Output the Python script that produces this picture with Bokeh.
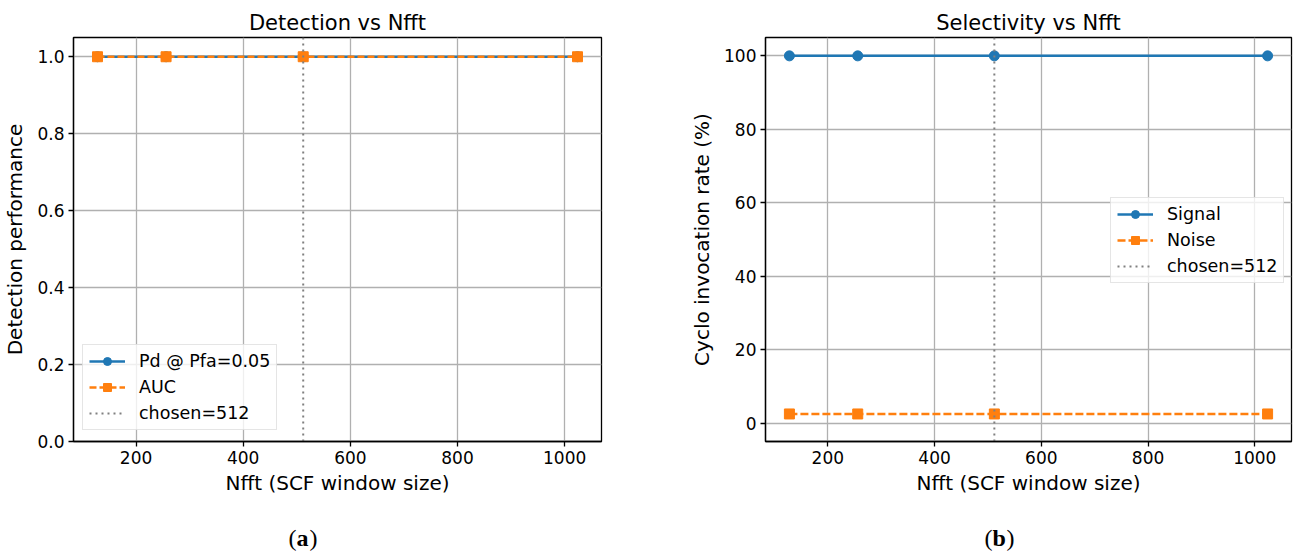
from bokeh.plotting import figure
from bokeh.layouts import row, column
from bokeh.models import Range1d, FixedTicker, Legend, LegendItem, PrintfTickFormatter
from bokeh.core.properties import value
from bokeh.embed import file_html
from bokeh.resources import INLINE

# ---- data ----
nfft = [128, 256, 512, 1024]
pd_vals = [1.0, 1.0, 1.0, 1.0]
auc_vals = [1.0, 1.0, 1.0, 1.0]
signal_rate = [100.0, 100.0, 100.0, 100.0]
noise_rate = [2.5, 2.5, 2.5, 2.5]
chosen = 512
x_ticks = [200, 400, 600, 800, 1000]
y_ticks_a = [0.0, 0.2, 0.4, 0.6, 0.8, 1.0]
y_ticks_b = [0, 20, 40, 60, 80, 100]
ylim_a = (0.0, 1.05)
ylim_b = (-5.0, 105.0)
cap_parts = ["(", "a", ")", "(", "b", ")"]
cap_styles = ["normal", "bold", "normal", "normal", "bold", "normal"]

BLUE = "#1f77b4"
ORANGE = "#ff7f0e"
FONT = "DejaVu Sans"

span = max(nfft) - min(nfft)
xlim = (min(nfft) - 0.05 * span, max(nfft) + 0.05 * span)


def style(p, yticks, yfmt):
    p.outline_line_color = "black"
    p.outline_line_width = 1.3
    p.title.text_font = FONT
    p.title.text_font_size = "21px"
    p.title.text_font_style = "normal"
    p.title.align = "center"
    p.title.text_color = "black"
    p.title.standoff = 6
    for ax in (p.xaxis[0], p.yaxis[0]):
        ax.axis_line_color = "black"
        ax.axis_line_width = 1.3
        ax.major_tick_line_color = "black"
        ax.major_tick_line_width = 1.3
        ax.major_tick_out = 5
        ax.major_tick_in = 0
        ax.minor_tick_line_color = None
        ax.major_label_text_font = FONT
        ax.major_label_text_font_size = "17px"
        ax.major_label_text_color = "black"
        ax.major_label_standoff = 4
        ax.axis_label_text_font = FONT
        ax.axis_label_text_font_size = "20px"
        ax.axis_label_text_font_style = "normal"
        ax.axis_label_text_color = "black"
        ax.axis_label_standoff = 7
    p.xaxis.axis_label_standoff = 4
    p.xaxis.ticker = FixedTicker(ticks=x_ticks)
    p.yaxis.ticker = FixedTicker(ticks=yticks)
    p.yaxis.formatter = PrintfTickFormatter(format=yfmt)
    p.xgrid.ticker = FixedTicker(ticks=x_ticks)
    p.ygrid.ticker = FixedTicker(ticks=yticks)
    for g in (p.xgrid[0], p.ygrid[0]):
        g.grid_line_color = "#b0b0b0"
        g.grid_line_width = 1.3


def legend(p, items, loc):
    lg = Legend(items=items, location=loc)
    lg.label_text_font = FONT
    lg.label_text_font_size = "17.5px"
    lg.label_text_color = "black"
    lg.glyph_width = 36
    lg.glyph_height = 20
    lg.label_height = 20
    lg.spacing = 6
    lg.padding = 6
    lg.margin = 0
    lg.label_standoff = 14
    lg.border_line_color = "#cccccc"
    lg.border_line_width = 1
    lg.background_fill_alpha = 0.8
    p.add_layout(lg)


PLOT_H = 520

# ---- (a) ----
p1 = figure(width=640, height=PLOT_H, x_range=Range1d(*xlim), y_range=Range1d(*ylim_a),
            title="Detection vs Nfft", output_backend="svg", toolbar_location=None,
            min_border_left=73, min_border_right=39, min_border_top=37, min_border_bottom=79,
            x_axis_label="Nfft (SCF window size)", y_axis_label="Detection performance")
style(p1, y_ticks_a, "%.1f")
r1l = p1.line(nfft, pd_vals, line_color=BLUE, line_width=2.5)
r1m = p1.scatter(nfft, pd_vals, marker="circle", size=10, fill_color=BLUE, line_color=BLUE)
r2l = p1.line(nfft, auc_vals, line_color=ORANGE, line_width=2.5, line_dash="7 3")
r2m = p1.scatter(nfft, auc_vals, marker="square", size=10, fill_color=ORANGE, line_color=ORANGE)
r3 = p1.line([chosen, chosen], list(ylim_a), line_color="gray", line_width=2, line_dash="2 4")
legend(p1, [LegendItem(label="Pd @ Pfa=0.05", renderers=[r1l, r1m]),
            LegendItem(label="AUC", renderers=[r2l, r2m]),
            LegendItem(label="chosen=512", renderers=[r3])], (9, 11))

# ---- (b) ----
p2 = figure(width=653, height=PLOT_H, x_range=Range1d(*xlim), y_range=Range1d(*ylim_b),
            title="Selectivity vs Nfft", output_backend="svg", toolbar_location=None,
            min_border_left=125, min_border_right=2, min_border_top=37, min_border_bottom=79,
            x_axis_label="Nfft (SCF window size)", y_axis_label="Cyclo invocation rate (%)")
style(p2, y_ticks_b, "%d")
s1l = p2.line(nfft, signal_rate, line_color=BLUE, line_width=2.5)
s1m = p2.scatter(nfft, signal_rate, marker="circle", size=10, fill_color=BLUE, line_color=BLUE)
s2l = p2.line(nfft, noise_rate, line_color=ORANGE, line_width=2.5, line_dash="8 3")
s2m = p2.scatter(nfft, noise_rate, marker="square", size=10, fill_color=ORANGE, line_color=ORANGE)
s3 = p2.line([chosen, chosen], list(ylim_b), line_color="gray", line_width=2, line_dash="2 4")
legend(p2, [LegendItem(label="Signal", renderers=[s1l, s1m]),
            LegendItem(label="Noise", renderers=[s2l, s2m]),
            LegendItem(label="chosen=512", renderers=[s3])], (345, 158))

# ---- caption strip: (a) and (b) ----
CAP_W, CAP_H = 1293, 31
pc = figure(width=CAP_W, height=CAP_H, x_range=Range1d(0, CAP_W), y_range=Range1d(0, CAP_H),
            output_backend="svg", toolbar_location=None, min_border=0)
pc.axis.visible = False
pc.grid.visible = False
pc.outline_line_color = None
cap_x = [288, 296, 309, 984, 992, 1006]
pc.text(x=cap_x, y=[14] * 6, text=cap_parts, text_font=value("Liberation Serif"),
        text_font_size="24px", text_font_style=cap_styles, text_color="black",
        text_align="left", text_baseline="middle")

layout = column(row(p1, p2), pc)
open("out.html", "w").write(file_html(layout, INLINE))
